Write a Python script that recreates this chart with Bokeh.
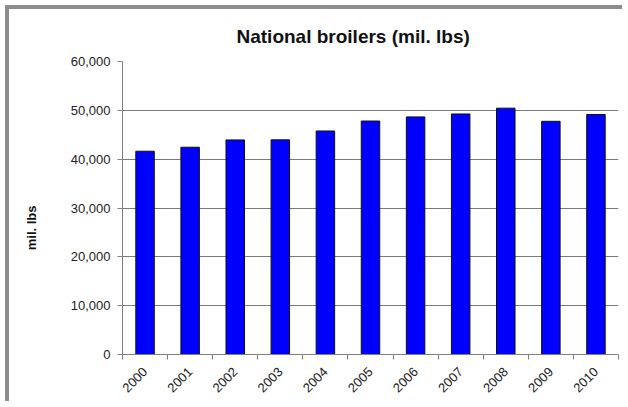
import math
from bokeh.plotting import figure
from bokeh.models import FixedTicker, NumeralTickFormatter, Range1d, ColumnDataSource
from bokeh.embed import file_html
from bokeh.resources import INLINE

years = ["2000", "2001", "2002", "2003", "2004", "2005", "2006", "2007", "2008", "2009", "2010"]
production = [41625, 42446, 43943, 43958, 45773, 47811, 48656, 49256, 50442, 47752, 49152]
y_ticks = [0, 10000, 20000, 30000, 40000, 50000, 60000]

xs = list(range(len(years)))
src = ColumnDataSource(dict(x=xs, top=production, year=years))

p = figure(width=617, height=396, output_backend="svg", toolbar_location=None,
           x_range=Range1d(-0.5, len(years) - 0.5), y_range=Range1d(0, 60000),
           min_border_left=113, min_border_right=8, min_border_top=52, min_border_bottom=51)
p.styles = {"border-left": "4px solid #8c8c8c", "border-top": "4px solid #8c8c8c",
            "margin-left": "5px", "margin-top": "5px"}
p.outline_line_color = None
p.background_fill_color = "white"
p.border_fill_color = "white"

p.vbar(x="x", top="top", width=0.41, source=src, fill_color="#0000FF", line_color="#111111", line_width=1)

# title
p.title.text = "National broilers (mil. lbs)"
p.title.text_font = "Liberation Sans"
p.title.text_font_size = "19px"
p.title.text_font_style = "bold"
p.title.text_color = "#111111"
p.title.align = "left"
p.title.offset = 114
p.title.standoff = 29

# x axis
xa = p.xaxis[0]
xa.ticker = FixedTicker(ticks=xs, minor_ticks=[i - 0.5 for i in range(len(years) + 1)])
xa.major_label_overrides = {i: y for i, y in enumerate(years)}
xa.major_label_orientation = math.pi / 4
xa.major_tick_line_color = None
xa.minor_tick_line_color = "#808080"
xa.minor_tick_out = 5
xa.minor_tick_in = 0
xa.axis_line_color = "#808080"
xa.major_label_text_font = "Liberation Sans"
xa.major_label_text_font_size = "13px"
xa.major_label_text_color = "#222222"
xa.major_label_standoff = 9

# y axis
ya = p.yaxis[0]
ya.ticker = FixedTicker(ticks=y_ticks)
ya.formatter = NumeralTickFormatter(format="0,0")
ya.minor_tick_line_color = None
ya.major_tick_line_color = "#808080"
ya.major_tick_out = 5
ya.major_tick_in = 0
ya.axis_line_color = "#808080"
ya.major_label_text_font = "Liberation Sans"
ya.major_label_text_font_size = "13px"
ya.major_label_text_color = "#222222"
ya.major_label_standoff = 7
ya.axis_label = "mil. lbs" + "\u00a0" * 11
ya.axis_label_text_font = "Liberation Sans"
ya.axis_label_text_font_size = "13px"
ya.axis_label_text_font_style = "bold"
ya.axis_label_text_color = "#111111"
ya.axis_label_standoff = 29

p.xgrid.grid_line_color = None
p.ygrid.ticker = FixedTicker(ticks=y_ticks[1:-1])
p.ygrid.grid_line_color = "#7a7a7a"
p.ygrid.grid_line_width = 1

open("out.html", "w").write(file_html(p, INLINE))
